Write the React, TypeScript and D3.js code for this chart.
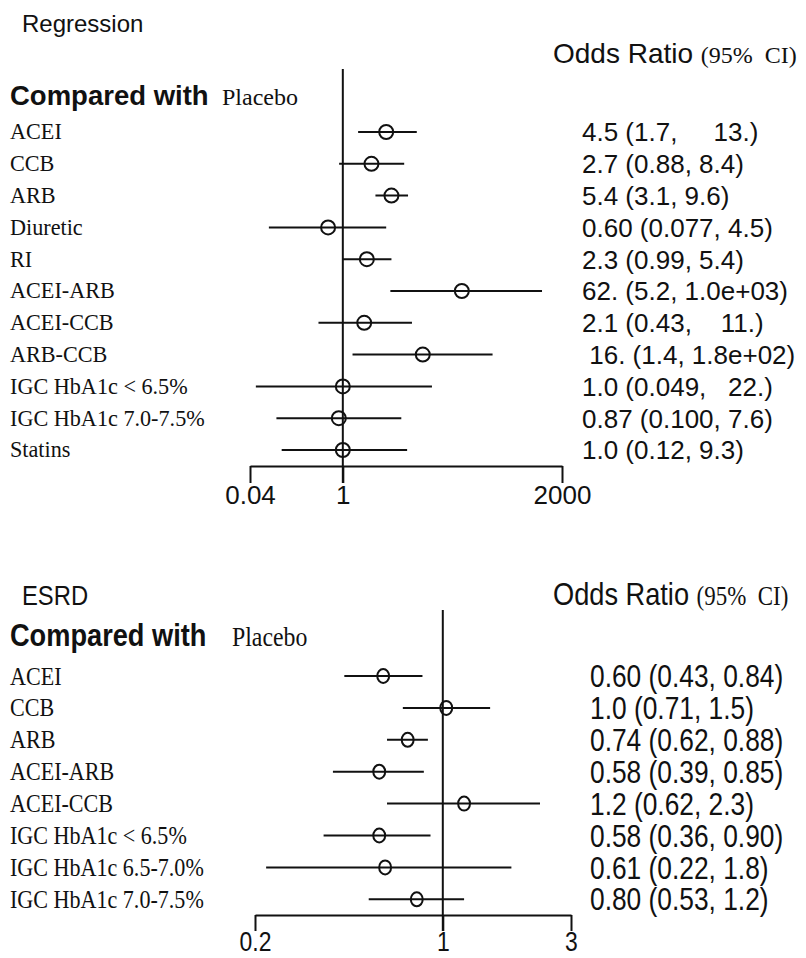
import * as d3 from "d3";
import { useEffect, useRef } from "react";

// top panel: Regression
const topLabels = ["ACEI", "CCB", "ARB", "Diuretic", "RI", "ACEI-ARB", "ACEI-CCB", "ARB-CCB", "IGC HbA1c < 6.5%", "IGC HbA1c 7.0-7.5%", "Statins"];
const topOR = [4.5, 2.7, 5.4, 0.6, 2.3, 62, 2.1, 16, 1.0, 0.87, 1.0];
const topLow = [1.7, 0.88, 3.1, 0.077, 0.99, 5.2, 0.43, 1.4, 0.049, 0.1, 0.12];
const topHigh = [13, 8.4, 9.6, 4.5, 5.4, 1000, 11, 180, 22, 7.6, 9.3];
const topText = [
    "4.5 (1.7,     13.)",
    "2.7 (0.88, 8.4)",
    "5.4 (3.1, 9.6)",
    "0.60 (0.077, 4.5)",
    "2.3 (0.99, 5.4)",
    "62. (5.2, 1.0e+03)",
    "2.1 (0.43,    11.)",
    " 16. (1.4, 1.8e+02)",
    "1.0 (0.049,   22.)",
    "0.87 (0.100, 7.6)",
    "1.0 (0.12, 9.3)",
];
const topTicks = [0.04, 1, 2000];

// bottom panel: ESRD
const botLabels = ["ACEI", "CCB", "ARB", "ACEI-ARB", "ACEI-CCB", "IGC HbA1c < 6.5%", "IGC HbA1c 6.5-7.0%", "IGC HbA1c 7.0-7.5%"];
const botOR = [0.6, 1.03, 0.74, 0.58, 1.2, 0.58, 0.61, 0.8];
const botLow = [0.43, 0.71, 0.62, 0.39, 0.62, 0.36, 0.22, 0.53];
const botHigh = [0.84, 1.5, 0.88, 0.85, 2.3, 0.9, 1.8, 1.2];
const botText = [
    "0.60 (0.43, 0.84)",
    "1.0 (0.71, 1.5)",
    "0.74 (0.62, 0.88)",
    "0.58 (0.39, 0.85)",
    "1.2 (0.62, 2.3)",
    "0.58 (0.36, 0.90)",
    "0.61 (0.22, 1.8)",
    "0.80 (0.53, 1.2)",
];
const botTicks = [0.2, 1, 3];

const SANS = "'Liberation Sans', Arial, sans-serif";
const SERIF = "'Liberation Serif', 'Times New Roman', serif";

const Forest = (props) => {
    const axisRef = useRef(null);
    const p = props;
    const x = d3.scaleLog().domain(p.domain).range(p.range);
    const rowY = (i) => p.row0 + i * p.pitch;
    const sx = p.sx;
    // condensed text: scale horizontally around anchor x
    const cond = (x0) => `translate(${x0},0) scale(${sx},1) translate(${-x0},0)`;

    useEffect(() => {
        const g = d3.select(axisRef.current);
        g.selectAll("*").remove();
        const axis = d3.axisBottom(x)
            .tickValues(p.ticks)
            .tickFormat(d3.format("~g"))
            .tickSize(p.tickLen)
            .tickSizeOuter(0)
            .tickPadding(p.tickPad);
        g.call(axis);
        g.select(".domain").attr("stroke", "#111").attr("stroke-width", 2);
        g.selectAll(".tick line").attr("stroke", "#111").attr("stroke-width", 2);
        g.selectAll(".tick text")
            .attr("fill", "#111")
            .attr("font-family", SANS)
            .attr("font-size", p.fs.tick)
            .attr("dy", "0.71em")
            .attr("transform", `scale(${sx},1)`);
    }, [p]);

    return (
        <g>
            <text x={22} y={p.titleY} fontFamily={SANS} fontSize={p.fs.title} fill="#111" transform={cond(22)}>{p.title}</text>
            <text x={p.orX} y={p.titleY2} fontFamily={SANS} fontSize={p.fs.or} fill="#111" transform={cond(p.orX)}>
                Odds Ratio <tspan fontFamily={SERIF} fontSize={p.fs.ci}>{"(95%\u00a0\u00a0CI)"}</tspan>
            </text>
            <text x={10} y={p.compY} fontFamily={SANS} fontWeight="bold" fontSize={p.fs.comp} fill="#111" transform={cond(10)}>
                Compared with
            </text>
            <text x={p.placeboX} y={p.compY} fontFamily={SERIF} fontSize={p.fs.placebo} fill="#111" transform={cond(p.placeboX)}>
                Placebo
            </text>
            <line x1={x(1)} x2={x(1)} y1={p.lineTop} y2={p.axisY + p.tickLen} stroke="#111" strokeWidth={2} />
            {p.labels.map((d, i) => (
                <g key={i}>
                    <text x={10} y={rowY(i) + p.fs.label * 0.33} fontFamily={SERIF} fontSize={p.fs.label} fill="#111" transform={cond(10)}>{d}</text>
                    <line x1={x(p.low[i])} x2={x(p.high[i])} y1={rowY(i)} y2={rowY(i)} stroke="#111" strokeWidth={2} />
                    <ellipse cx={x(p.or[i])} cy={rowY(i)} rx={p.r * sx} ry={p.r} fill="none" stroke="#111" strokeWidth={2} />
                    <text x={p.textX} y={rowY(i) + p.fs.val * 0.36} fontFamily={SANS} fontSize={p.fs.val} fill="#111" style={{ whiteSpace: "pre" }} transform={cond(p.textX)}>{p.text[i]}</text>
                </g>
            ))}
            <g ref={axisRef} transform={`translate(0, ${p.axisY})`} />
        </g>
    );
};

const topCfg = {
    title: "Regression", titleY: 32, titleY2: 63, orX: 553, compY: 105, placeboX: 222,
    lineTop: 69, row0: 132, pitch: 31.8, axisY: 466, tickLen: 17, tickPad: 3,
    domain: [0.04, 2000], range: [250, 562], r: 7, sx: 1, textX: 582,
    labels: topLabels, or: topOR, low: topLow, high: topHigh, text: topText, ticks: topTicks,
    fs: { title: 24, or: 28, ci: 24, comp: 27.5, placebo: 24, label: 22.2, val: 26, tick: 26 },
};

const botCfg = {
    title: "ESRD", titleY: 605, titleY2: 605, orX: 553, compY: 646, placeboX: 232,
    lineTop: 610, row0: 676, pitch: 31.9, axisY: 915, tickLen: 16, tickPad: 1,
    domain: [0.2, 3], range: [255, 571], r: 7, sx: 0.85, textX: 590,
    labels: botLabels, or: botOR, low: botLow, high: botHigh, text: botText, ticks: botTicks,
    fs: { title: 28, or: 32, ci: 27, comp: 32, placebo: 28, label: 26, val: 31, tick: 27 },
};

export default function App() {
    return (
        <svg width={806} height={958} style={{ position: "absolute", left: 0, top: 0, background: "#fff" }}>
            <Forest {...topCfg} />
            <Forest {...botCfg} />
        </svg>
    );
}
